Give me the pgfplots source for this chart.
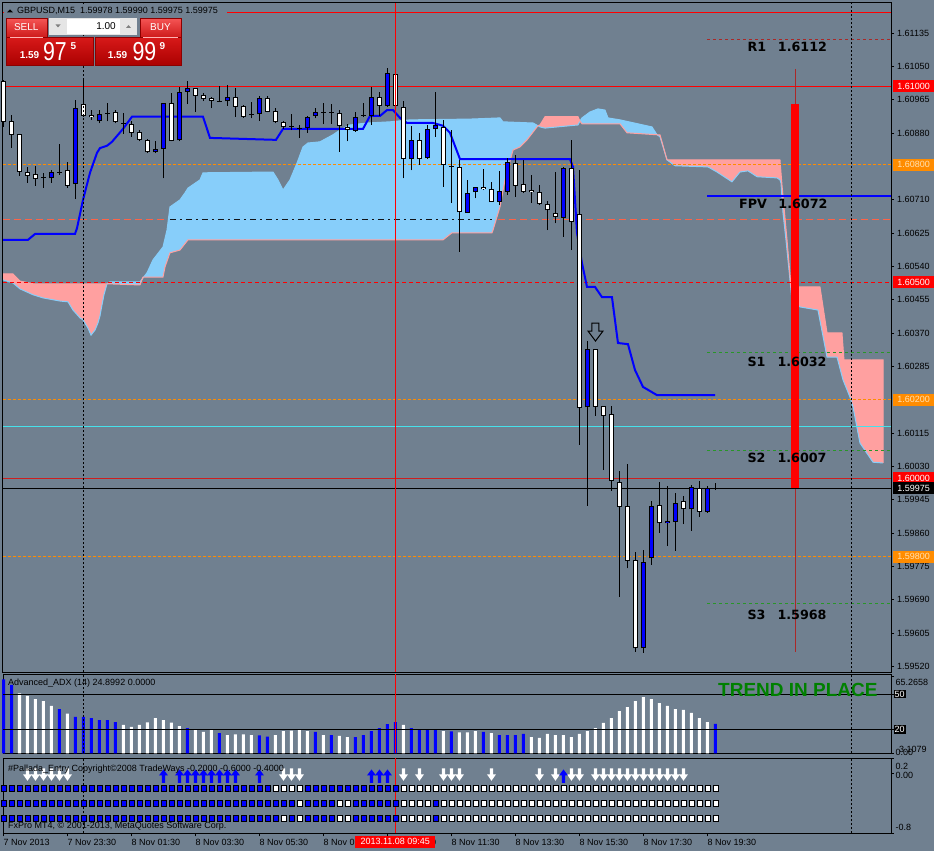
\documentclass[border=0pt]{standalone}
\usepackage{pgfplots}
\pgfplotsset{compat=1.18}
\usepackage{pgfplotstable}
\usepackage{fontspec}
\setmainfont{Liberation Sans}
\newfontfamily\dvb{DejaVu Sans}
\definecolor{slate}{RGB}{112,128,144}
\definecolor{cblue}{RGB}{135,206,250}
\definecolor{cpink}{RGB}{255,160,160}
\definecolor{mblue}{RGB}{0,0,255}
\definecolor{morange}{RGB}{255,140,0}
\definecolor{mtomato}{RGB}{255,99,71}
\definecolor{mgreen}{RGB}{40,150,40}
\definecolor{mmaroon}{RGB}{170,40,40}
\definecolor{mcyan}{RGB}{70,225,235}
\definecolor{mred}{RGB}{255,0,0}
\definecolor{dred}{RGB}{205,30,30}
\definecolor{tgreen}{RGB}{0,128,0}
\definecolor{ocream}{RGB}{255,225,180}

\pgfdeclareplotmark{dnarr}{%
\pgfpathmoveto{\pgfqpoint{-1.6pt}{6.5pt}}\pgfpathlineto{\pgfqpoint{1.6pt}{6.5pt}}%
\pgfpathlineto{\pgfqpoint{1.6pt}{0.5pt}}\pgfpathlineto{\pgfqpoint{4.5pt}{0.5pt}}%
\pgfpathlineto{\pgfqpoint{0pt}{-6pt}}\pgfpathlineto{\pgfqpoint{-4.5pt}{0.5pt}}%
\pgfpathlineto{\pgfqpoint{-1.6pt}{0.5pt}}\pgfpathclose\pgfusepathqfill}
\pgfdeclareplotmark{uparr}{%
\pgfpathmoveto{\pgfqpoint{-1.6pt}{-7pt}}\pgfpathlineto{\pgfqpoint{1.6pt}{-7pt}}%
\pgfpathlineto{\pgfqpoint{1.6pt}{0.5pt}}\pgfpathlineto{\pgfqpoint{4.5pt}{0.5pt}}%
\pgfpathlineto{\pgfqpoint{0pt}{6.5pt}}\pgfpathlineto{\pgfqpoint{-4.5pt}{0.5pt}}%
\pgfpathlineto{\pgfqpoint{-1.6pt}{0.5pt}}\pgfpathclose\pgfusepathqfill}
\pgfdeclareplotmark{hdn}{%
\pgfpathmoveto{\pgfqpoint{-3.5pt}{9pt}}\pgfpathlineto{\pgfqpoint{3.5pt}{9pt}}%
\pgfpathlineto{\pgfqpoint{3.5pt}{1pt}}\pgfpathlineto{\pgfqpoint{7.5pt}{1pt}}%
\pgfpathlineto{\pgfqpoint{0pt}{-9pt}}\pgfpathlineto{\pgfqpoint{-7.5pt}{1pt}}%
\pgfpathlineto{\pgfqpoint{-3.5pt}{1pt}}\pgfpathclose\pgfusepathqfillstroke}

\pgfplotsset{
  mtpanel/.style={scale only axis, width=888pt, xmin=-0.0625, xmax=110.94,
    axis background/.style={fill=slate}, axis line style={black, line width=1pt},
    clip=false, tick style={black, line width=0.8pt}, tick align=outside, major tick length=3pt},
  wick/.style={draw=none, mark=none, forget plot, error bars/y dir=plus, error bars/y explicit,
    error bars/error mark=none, error bars/error bar style={draw=black, solid, line width=1pt}},
  body/.style 2 args={draw=none, mark=none, forget plot, error bars/y dir=plus, error bars/y explicit,
    error bars/error mark=none, error bars/error bar style={draw=#1, solid, line width=#2}},
}
\newcommand{\sm}{\fontsize{9}{10}\selectfont}

% white (bearish) candles: body top, body bottom, high, low
\pgfplotstableread{
i t b hi lo
0 1.61013 1.60909 1.61016 1.60896
1 1.60911 1.60876 1.60927 1.60843
2 1.60878 1.60781 1.60878 1.60771
3 1.60781 1.60771 1.60794 1.60753
4 1.60775 1.60763 1.60797 1.60746
8 1.60786 1.60746 1.60807 1.60741
10 1.60954 1.60925 1.61016 1.60922
11 1.60927 1.60921 1.60939 1.60914
14 1.60935 1.60908 1.60938 1.60905
16 1.60903 1.60880 1.60911 1.60871
17 1.60883 1.60863 1.60888 1.60859
18 1.60863 1.60831 1.60865 1.60829
21 1.60956 1.60860 1.60982 1.60859
24 1.60996 1.60976 1.60996 1.60934
25 1.60978 1.60967 1.60982 1.60962
26 1.60969 1.60963 1.60972 1.60944
29 1.60973 1.60948 1.60995 1.60922
30 1.60950 1.60922 1.60952 1.60920
33 1.60969 1.60935 1.60975 1.60933
34 1.60937 1.60908 1.60944 1.60905
35 1.60908 1.60895 1.60911 1.60891
42 1.60931 1.60899 1.60939 1.60833
43 1.60897 1.60888 1.60903 1.60859
47 1.60972 1.60950 1.60986 1.60924
49 1.61030 1.60950 1.61033 1.60948
50 1.60948 1.60814 1.60961 1.60765
52 1.60863 1.60814 1.60880 1.60799
55 1.60897 1.60799 1.60914 1.60744
57 1.60793 1.60678 1.60812 1.60578
60 1.60742 1.60737 1.60788 1.60735
61 1.60737 1.60704 1.60755 1.60704
64 1.60803 1.60746 1.60825 1.60718
65 1.60751 1.60731 1.60812 1.60727
66 1.60735 1.60729 1.60774 1.60703
67 1.60729 1.60699 1.60748 1.60697
68 1.60699 1.60683 1.60707 1.60633
69 1.60676 1.60666 1.60782 1.60650
71 1.60791 1.60654 1.60863 1.60582
72 1.60673 1.60179 1.60786 1.60085
74 1.60329 1.60183 1.60329 1.60160
75 1.60185 1.60160 1.60185 1.60021
76 1.60163 1.59994 1.60184 1.59968
77 1.59991 1.59927 1.60018 1.59698
78 1.59929 1.59790 1.60036 1.59770
79 1.59791 1.59566 1.59811 1.59558
82 1.59933 1.59885 1.59990 1.59861
85 1.59942 1.59921 1.59955 1.59883
87 1.59974 1.59915 1.59993 1.59902
}\Wc
% blue (bullish) candles
\pgfplotstableread{
i t b hi lo
6 1.60780 1.60765 1.60786 1.60754
9 1.60944 1.60750 1.60965 1.60712
12 1.60928 1.60910 1.60939 1.60905
19 1.60840 1.60831 1.60860 1.60829
20 1.60956 1.60839 1.60956 1.60765
22 1.60986 1.60862 1.60999 1.60860
23 1.60996 1.60986 1.61014 1.60954
28 1.60972 1.60961 1.61003 1.60950
32 1.60969 1.60928 1.60975 1.60912
38 1.60921 1.60894 1.60924 1.60881
39 1.60934 1.60924 1.60945 1.60918
44 1.60921 1.60886 1.60933 1.60884
46 1.60972 1.60924 1.60997 1.60901
48 1.61033 1.60950 1.61046 1.60946
51 1.60863 1.60814 1.60899 1.60785
53 1.60890 1.60816 1.60901 1.60814
54 1.60900 1.60890 1.60985 1.60871
58 1.60727 1.60676 1.60761 1.60676
59 1.60742 1.60729 1.60742 1.60714
62 1.60732 1.60704 1.60784 1.60697
63 1.60806 1.60731 1.60816 1.60723
70 1.60791 1.60665 1.60793 1.60616
73 1.60329 1.60181 1.60350 1.59930
80 1.59786 1.59566 1.59817 1.59555
81 1.59929 1.59796 1.59942 1.59779
83 1.59891 1.59885 1.59980 1.59827
84 1.59936 1.59889 1.59962 1.59815
86 1.59977 1.59921 1.59983 1.59866
88 1.59974 1.59915 1.59980 1.59912
}\Bc
% doji candles
\pgfplotstableread{
i c hi lo
5 1.60766 1.60779 1.60741
7 1.60779 1.60853 1.60774
13 1.60931 1.60958 1.60910
15 1.60905 1.60931 1.60878
27 1.60962 1.61001 1.60959
31 1.60928 1.60959 1.60918
36 1.60896 1.60929 1.60888
37 1.60893 1.60901 1.60869
40 1.60933 1.60956 1.60903
41 1.60933 1.60955 1.60904
45 1.60925 1.60958 1.60921
56 1.60795 1.60888 1.60702
89 1.59973 1.59987 1.59970
}\Dj

\begin{document}
\begin{tikzpicture}
\fill[slate] (0,0) rectangle (934pt,-851pt);

% ================= MAIN PRICE PANEL =================
\begin{axis}[mtpanel, at={(3pt,-672pt)}, anchor=south west, height=669pt,
  ymin=1.59506, ymax=1.61212, xtick=\empty,
  ytick={1.59520,1.59605,1.59690,1.59775,1.59860,1.59945,1.60030,1.60115,1.60285,1.60370,1.60455,1.60540,1.60625,1.60710,1.60880,1.60965,1.61050,1.61135},
  ytick pos=right, yticklabel pos=right, scaled y ticks=false,
  yticklabel style={font=\sm, anchor=west, inner sep=0pt, xshift=3pt,
    /pgf/number format/fixed, /pgf/number format/fixed zerofill,
    /pgf/number format/precision=5, /pgf/number format/assume math mode=true}]

% background level under the cloud
\addplot[mtomato, line width=1pt, dash pattern=on 7pt off 4pt, forget plot] coordinates {(-0.0625,1.60659) (110.94,1.60659)};

% Ichimoku cloud
\addplot[fill=cpink, draw=none, forget plot] coordinates {(-0.06,1.60521) (1.19,1.60521) (2.06,1.60503) (3.69,1.60496) (12.94,1.60496) (12.56,1.60468) (12.31,1.60442) (12.06,1.60414) (11.81,1.60396) (11.44,1.60378) (10.94,1.60365) (10.56,1.60383) (9.94,1.60404) (9.56,1.60409) (8.69,1.60429) (8.06,1.60450) (7.06,1.60452) (4.94,1.60460) (3.69,1.60468) (2.06,1.60483) (1.19,1.60498) (-0.06,1.60506)};
\addplot[fill=cblue, draw=none, forget plot] coordinates {(12.94,1.60496) (13.31,1.60501) (17.06,1.60501) (17.94,1.60524) (18.69,1.60557) (19.94,1.60590) (20.44,1.60633) (20.81,1.60692) (22.06,1.60710) (22.69,1.60728) (23.06,1.60740) (24.56,1.60761) (24.94,1.60779) (33.69,1.60781) (34.31,1.60761) (34.94,1.60735) (35.81,1.60761) (36.69,1.60804) (37.44,1.60845) (38.06,1.60855) (39.56,1.60858) (41.19,1.60876) (42.06,1.60888) (43.31,1.60901) (45.44,1.60906) (48.31,1.60909) (50.81,1.60914) (58.31,1.60916) (62.06,1.60919) (62.44,1.60909) (66.19,1.60906) (66.81,1.60899) (65.44,1.60863) (64.56,1.60845) (63.69,1.60837) (62.69,1.60761) (62.06,1.60692) (61.19,1.60633) (61.06,1.60626) (56.06,1.60626) (54.94,1.60608) (23.06,1.60608) (22.06,1.60582) (20.81,1.60575) (20.19,1.60539) (19.94,1.60513) (17.44,1.60513) (17.06,1.60493) (12.94,1.60496)};
\addplot[fill=cpink, draw=none, forget plot] coordinates {(66.81,1.60899) (67.06,1.60901) (67.69,1.60922) (71.81,1.60922) (72.06,1.60911) (71.81,1.60901) (67.69,1.60893) (67.06,1.60896)};
\addplot[fill=cblue, draw=none, forget plot] coordinates {(72.06,1.60911) (72.31,1.60919) (73.31,1.60934) (74.31,1.60942) (75.19,1.60939) (75.56,1.60919) (77.06,1.60914) (81.06,1.60896) (81.69,1.60876) (77.94,1.60881) (77.06,1.60904) (72.31,1.60904)};
\addplot[fill=cpink, draw=none, forget plot] coordinates {(81.69,1.60876) (82.06,1.60876) (82.94,1.60812) (97.06,1.60812) (97.31,1.60748) (97.94,1.60608) (98.44,1.60488) (102.06,1.60488) (102.94,1.60371) (104.81,1.60371) (105.06,1.60302) (109.94,1.60302) (109.94,1.60039) (108.69,1.60041) (107.06,1.60090) (106.19,1.60182) (105.81,1.60207) (104.94,1.60251) (104.19,1.60309) (102.94,1.60309) (101.81,1.60429) (99.56,1.60437) (98.56,1.60455) (98.19,1.60531) (97.81,1.60608) (97.44,1.60677) (97.19,1.60753) (97.06,1.60761) (96.69,1.60766) (94.19,1.60769) (93.06,1.60784) (92.06,1.60781) (91.06,1.60756) (89.19,1.60781) (88.06,1.60794) (83.94,1.60797) (82.94,1.60812) (82.06,1.60871)};
% span A
\addplot[cblue, line width=1pt, forget plot] coordinates {(-0.06,1.60506) (1.19,1.60498) (2.06,1.60483) (3.69,1.60468) (4.94,1.60460) (7.06,1.60452) (8.06,1.60450) (8.69,1.60429) (9.56,1.60409) (9.94,1.60404) (10.56,1.60383) (10.94,1.60365) (11.44,1.60378) (11.81,1.60396) (12.06,1.60414) (12.31,1.60442) (12.56,1.60468) (12.94,1.60496) (13.31,1.60501) (17.06,1.60501) (17.94,1.60524) (18.69,1.60557) (19.94,1.60590) (20.44,1.60633) (20.81,1.60692) (22.06,1.60710) (22.69,1.60728) (23.06,1.60740) (24.56,1.60761) (24.94,1.60779) (33.69,1.60781) (34.31,1.60761) (34.94,1.60735) (35.81,1.60761) (36.69,1.60804) (37.44,1.60845) (38.06,1.60855) (39.56,1.60858) (41.19,1.60876) (42.06,1.60888) (43.31,1.60901) (45.44,1.60906) (48.31,1.60909) (50.81,1.60914) (58.31,1.60916) (62.06,1.60919) (62.44,1.60909) (66.19,1.60906) (66.81,1.60899) (67.06,1.60896) (67.69,1.60893) (71.81,1.60901) (72.06,1.60911) (72.31,1.60919) (73.31,1.60934) (74.31,1.60942) (75.19,1.60939) (75.56,1.60919) (77.06,1.60914) (81.06,1.60896) (81.69,1.60876) (82.06,1.60871) (82.94,1.60812) (83.94,1.60797) (88.06,1.60794) (89.19,1.60781) (91.06,1.60756) (92.06,1.60781) (93.06,1.60784) (94.19,1.60769) (96.69,1.60766) (97.06,1.60761) (97.19,1.60753) (97.44,1.60677) (97.81,1.60608) (98.19,1.60531) (98.56,1.60455) (99.56,1.60437) (101.81,1.60429) (102.94,1.60309) (104.19,1.60309) (104.94,1.60251) (105.81,1.60207) (106.19,1.60182) (107.06,1.60090) (108.69,1.60041) (109.94,1.60039)};
% span B
\addplot[cpink, line width=1pt, forget plot] coordinates {(-0.06,1.60521) (1.19,1.60521) (2.06,1.60503) (3.69,1.60496) (12.94,1.60496) (17.06,1.60493) (17.44,1.60513) (19.94,1.60513) (20.19,1.60539) (20.81,1.60575) (22.06,1.60582) (23.06,1.60608) (54.94,1.60608) (56.06,1.60626) (61.06,1.60626) (61.19,1.60633) (62.06,1.60692) (62.69,1.60761) (63.69,1.60837) (64.56,1.60845) (65.44,1.60863) (66.81,1.60899) (67.06,1.60901) (67.69,1.60922) (71.81,1.60922) (72.06,1.60911) (72.31,1.60904) (77.06,1.60904) (77.94,1.60881) (81.69,1.60876) (82.06,1.60876) (82.94,1.60812) (97.06,1.60812) (97.31,1.60748) (97.94,1.60608) (98.44,1.60488) (102.06,1.60488) (102.94,1.60371) (104.81,1.60371) (105.06,1.60302) (109.94,1.60302) (109.94,1.60039)};

% dash-dot segment inside the cloud
\addplot[black!85!slate, line width=1pt, dash pattern=on 6pt off 4pt on 2pt off 4pt, forget plot] coordinates {(20.8,1.60659) (61.06,1.60659)};

% horizontal levels
\addplot[mred, line width=1pt, forget plot] coordinates {(-0.0625,1.61187) (110.94,1.61187)};
\addplot[mred, line width=1pt, forget plot] coordinates {(-0.0625,1.61000) (110.94,1.61000)};
\addplot[morange, line width=1pt, dash pattern=on 3pt off 2pt, forget plot] coordinates {(-0.0625,1.60800) (110.94,1.60800)};
\addplot[mred, line width=1pt, dash pattern=on 4pt off 3pt, forget plot] coordinates {(-0.0625,1.60500) (110.94,1.60500)};
\addplot[morange, line width=1pt, dash pattern=on 3pt off 2pt, forget plot] coordinates {(-0.0625,1.60200) (110.94,1.60200)};
\addplot[mcyan, line width=1pt, forget plot] coordinates {(-0.0625,1.60131) (110.94,1.60131)};
\addplot[dred, line width=1pt, forget plot] coordinates {(-0.0625,1.60000) (110.94,1.60000)};
\addplot[morange, line width=1pt, dash pattern=on 3pt off 2pt, forget plot] coordinates {(-0.0625,1.59800) (110.94,1.59800)};

% pivot levels
\addplot[mmaroon, line width=1pt, dash pattern=on 3pt off 3pt, forget plot] coordinates {(87.94,1.6112) (110.94,1.6112)};
\addplot[mblue, line width=2pt, forget plot] coordinates {(87.94,1.6072) (110.94,1.6072)};
\addplot[mgreen, line width=1pt, dash pattern=on 3pt off 3pt, forget plot] coordinates {(87.94,1.6032) (110.94,1.6032)};
\addplot[mgreen, line width=1pt, dash pattern=on 3pt off 3pt, forget plot] coordinates {(87.94,1.6007) (110.94,1.6007)};
\addplot[mgreen, line width=1pt, dash pattern=on 3pt off 3pt, forget plot] coordinates {(87.94,1.5968) (110.94,1.5968)};

% projected range bar
\addplot[mmaroon, line width=1pt, forget plot] coordinates {(98.94,1.61044) (98.94,1.59557)};
\addplot[fill=mred, draw=none, forget plot] coordinates {(98.44,1.60955) (99.44,1.60955) (99.44,1.59975) (98.44,1.59975)};

% bid line
\addplot[black, line width=1pt, forget plot] coordinates {(-0.0625,1.59975) (110.94,1.59975)};

% Kijun line
\addplot[mblue, line width=2pt, forget plot] coordinates {(-0.06,1.60608) (3.06,1.60608) (3.94,1.60623) (8.94,1.60623) (9.19,1.60638) (9.94,1.60710) (10.81,1.60779) (11.69,1.60830) (12.06,1.60842) (12.94,1.60848) (13.56,1.60858) (14.94,1.60891) (16.06,1.60922) (24.94,1.60922) (25.81,1.60868) (34.06,1.60863) (34.94,1.60891) (44.94,1.60891) (45.81,1.60924) (47.06,1.60924) (47.94,1.60939) (48.69,1.60939) (49.56,1.60919) (50.44,1.60906) (53.69,1.60906) (54.94,1.60899) (55.81,1.60881) (57.06,1.60814) (70.81,1.60814) (71.19,1.60794) (71.69,1.60626) (72.31,1.60549) (72.94,1.60488) (73.94,1.60488) (74.81,1.60462) (76.06,1.60462) (76.81,1.60345) (78.06,1.60342) (78.94,1.60276) (79.94,1.60233) (81.69,1.60212) (88.94,1.60212)};

% candles: wicks
\addplot[wick] table[x=i, y=lo, y error plus expr=\thisrow{hi}-\thisrow{lo}] \Wc;
\addplot[wick] table[x=i, y=lo, y error plus expr=\thisrow{hi}-\thisrow{lo}] \Bc;
\addplot[wick] table[x=i, y=lo, y error plus expr=\thisrow{hi}-\thisrow{lo}] \Dj;
% bodies
\addplot[body={black}{4.8pt}] table[x=i, y=b, y error plus expr=\thisrow{t}-\thisrow{b}] \Wc;
\addplot[body={white}{2.8pt}] table[x=i, y expr=\thisrow{b}+0.0000255, y error plus expr=\thisrow{t}-\thisrow{b}-0.000051] \Wc;
\addplot[body={black}{4.8pt}] table[x=i, y=b, y error plus expr=\thisrow{t}-\thisrow{b}] \Bc;
\addplot[body={mblue}{2.8pt}] table[x=i, y expr=\thisrow{b}+0.0000255, y error plus expr=\thisrow{t}-\thisrow{b}-0.000051] \Bc;
\addplot[only marks, mark=-, mark size=2.4pt, mark options={black, line width=1pt}, forget plot] table[x=i, y=c] \Dj;

% vertical lines
\addplot[mred, line width=1pt, forget plot] coordinates {(49,1.59506) (49,1.61212)};
\addplot[black, line width=1pt, dash pattern=on 2pt off 2pt, forget plot] coordinates {(10,1.59506) (10,1.61212)};
\addplot[black, line width=1pt, dash pattern=on 2pt off 2pt, forget plot] coordinates {(106,1.59506) (106,1.61212)};

% signal arrow
\addplot[only marks, mark=hdn, mark options={draw=black, fill=slate, line width=1pt}, forget plot] coordinates {(74,1.60373)};

% pivot texts
\begin{scope}[every node/.style={font=\dvb\bfseries\fontsize{12.7}{13}\selectfont, text=black, inner sep=0pt, anchor=west}]
\node at (axis cs:93.0,1.61100) {R1};   \node at (axis cs:96.78,1.61100) {1.6112};
\node at (axis cs:91.94,1.60700) {FPV}; \node at (axis cs:96.85,1.60700) {1.6072};
\node at (axis cs:92.98,1.60297) {S1};  \node at (axis cs:96.73,1.60297) {1.6032};
\node at (axis cs:92.98,1.60051) {S2};  \node at (axis cs:96.73,1.60051) {1.6007};
\node at (axis cs:92.98,1.59651) {S3};  \node at (axis cs:96.73,1.59651) {1.5968};
\end{scope}

% price boxes
\begin{scope}[every node/.style={font=\sm, inner sep=0pt, minimum width=41pt, minimum height=12pt, anchor=west}]
\node[fill=mred, text=white] at (axis cs:111.19,1.61000) {1.61000};
\node[fill=morange, text=ocream] at (axis cs:111.19,1.60800) {1.60800};
\node[fill=mred, text=white] at (axis cs:111.19,1.60500) {1.60500};
\node[fill=morange, text=ocream] at (axis cs:111.19,1.60200) {1.60200};
\node[fill=mred, text=white] at (axis cs:111.19,1.60000) {1.60000};
\node[fill=black, text=white] at (axis cs:111.19,1.59975) {1.59975};
\node[fill=morange, text=ocream] at (axis cs:111.19,1.59800) {1.59800};
\end{scope}
\end{axis}

% ================= ADX PANEL =================
\begin{axis}[mtpanel, at={(3pt,-753.3pt)}, anchor=south west, height=79.3pt,
  ymin=0, ymax=67.2, xtick=\empty, ytick={0,20,50,65.2658}, yticklabels={}, ytick pos=right]
\addplot[ybar, bar width=3pt, bar shift=0pt, fill=mblue, draw=none, forget plot] coordinates {(0,62.7)(1,57.9)(7,37.5)(9,30.8)(10,30.8)(11,29.9)(12,28.2)(13,28.2)(14,26.5)(23,21.4)(27,17.2)(32,15.3)(33,14.1)(39,18.1)(41,15.5)(44,13.8)(45,15.5)(46,18.9)(47,21.4)(48,24.8)(49,26.5)(51,21.4)(52,19.7)(53,19.7)(54,19.7)(56,18.6)(60,18.1)(62,15.5)(63,15.5)(64,15.5)(65,16.4)(89,24.9)};
\addplot[ybar, bar width=3pt, bar shift=0pt, fill=white, draw=none, forget plot] coordinates {(2,50.8)(3,48.6)(4,46.0)(5,44.3)(6,40.1)(8,33.6)(15,24.0)(16,22.3)(17,24.0)(18,26.3)(19,29.9)(20,28.2)(21,25.9)(22,23.1)(24,19.7)(25,18.1)(26,19.7)(28,15.5)(29,16.1)(30,16.1)(31,15.5)(34,15.5)(35,18.9)(36,19.2)(37,19.7)(38,18.9)(40,15.5)(42,14.7)(43,13.8)(50,24.0)(55,18.9)(57,17.8)(58,17.8)(59,18.9)(61,17.2)(66,13.8)(67,13.0)(68,16.4)(69,15.5)(70,15.5)(71,13.8)(72,16.4)(73,18.9)(74,21.4)(75,25.7)(76,29.9)(77,35.8)(78,39.2)(79,44.3)(80,47.7)(81,46.0)(82,42.6)(83,40.1)(84,37.5)(85,36.7)(86,34.2)(87,29.9)(88,26.5)};
\addplot[black, line width=1pt, forget plot] coordinates {(-0.0625,50) (110.94,50)};
\addplot[black, line width=1pt, forget plot] coordinates {(-0.0625,20) (110.94,20)};
\addplot[mred, line width=1pt, forget plot] coordinates {(49,0) (49,67.2)};
\addplot[black, line width=1pt, dash pattern=on 2pt off 2pt, forget plot] coordinates {(10,0) (10,67.2)};
\addplot[black, line width=1pt, dash pattern=on 2pt off 2pt, forget plot] coordinates {(106,0) (106,67.2)};
\end{axis}

% ================= PALLADA PANEL =================
\begin{axis}[mtpanel, at={(3pt,-833.3pt)}, anchor=south west, height=75pt,
  ymin=-0.8, ymax=0.2, ytick={-0.8,0,0.2}, yticklabels={}, ytick pos=right,
  xtick={0,8,16,24,32,40,48,56,64,72,80,88}, xtick pos=left,
  xticklabels={7 Nov 2013,7 Nov 23:30,8 Nov 01:30,8 Nov 03:30,8 Nov 05:30,8 Nov 07:30,8 Nov 09:30,8 Nov 11:30,8 Nov 13:30,8 Nov 15:30,8 Nov 17:30,8 Nov 19:30},
  xticklabel style={font=\sm, anchor=north west, inner sep=0pt, yshift=-3pt}]
\addplot[red, line width=1pt, forget plot] coordinates {(49,-0.8) (49,0.2)};
\addplot[black, line width=1pt, dash pattern=on 2pt off 2pt, forget plot] coordinates {(10,-0.8) (10,0.2)};
\addplot[black, line width=1pt, dash pattern=on 2pt off 2pt, forget plot] coordinates {(106,-0.8) (106,0.2)};
% row 1
\addplot[only marks, mark=square*, mark size=2.65pt, mark options={draw=none, fill=mblue}, forget plot] coordinates {(0,-0.2)(1,-0.2)(2,-0.2)(3,-0.2)(4,-0.2)(5,-0.2)(6,-0.2)(7,-0.2)(8,-0.2)(9,-0.2)(10,-0.2)(11,-0.2)(12,-0.2)(13,-0.2)(14,-0.2)(15,-0.2)(16,-0.2)(17,-0.2)(18,-0.2)(19,-0.2)(20,-0.2)(21,-0.2)(22,-0.2)(23,-0.2)(24,-0.2)(25,-0.2)(26,-0.2)(27,-0.2)(28,-0.2)(29,-0.2)(30,-0.2)(31,-0.2)(32,-0.2)(33,-0.2)(38,-0.2)(39,-0.2)(40,-0.2)(41,-0.2)(42,-0.2)(43,-0.2)(44,-0.2)(45,-0.2)(46,-0.2)(47,-0.2)(48,-0.2)(49,-0.2)};
\addplot[only marks, mark=square*, mark size=2.65pt, mark options={draw=none, fill=white}, forget plot] coordinates {(34,-0.2)(35,-0.2)(36,-0.2)(37,-0.2)(50,-0.2)(51,-0.2)(52,-0.2)(53,-0.2)(54,-0.2)(55,-0.2)(56,-0.2)(57,-0.2)(58,-0.2)(59,-0.2)(60,-0.2)(61,-0.2)(62,-0.2)(63,-0.2)(64,-0.2)(65,-0.2)(66,-0.2)(67,-0.2)(68,-0.2)(69,-0.2)(70,-0.2)(71,-0.2)(72,-0.2)(73,-0.2)(74,-0.2)(75,-0.2)(76,-0.2)(77,-0.2)(78,-0.2)(79,-0.2)(80,-0.2)(81,-0.2)(82,-0.2)(83,-0.2)(84,-0.2)(85,-0.2)(86,-0.2)(87,-0.2)(88,-0.2)(89,-0.2)};
% row 2
\addplot[only marks, mark=square*, mark size=2.65pt, mark options={draw=none, fill=mblue}, forget plot] coordinates {(0,-0.4)(1,-0.4)(2,-0.4)(3,-0.4)(4,-0.4)(5,-0.4)(6,-0.4)(7,-0.4)(8,-0.4)(9,-0.4)(10,-0.4)(11,-0.4)(12,-0.4)(13,-0.4)(14,-0.4)(15,-0.4)(16,-0.4)(17,-0.4)(18,-0.4)(19,-0.4)(20,-0.4)(21,-0.4)(22,-0.4)(23,-0.4)(24,-0.4)(25,-0.4)(26,-0.4)(27,-0.4)(28,-0.4)(29,-0.4)(30,-0.4)(31,-0.4)(32,-0.4)(33,-0.4)(34,-0.4)(35,-0.4)(36,-0.4)(38,-0.4)(39,-0.4)(40,-0.4)(41,-0.4)(44,-0.4)(45,-0.4)(46,-0.4)(47,-0.4)(48,-0.4)(49,-0.4)(54,-0.4)};
\addplot[only marks, mark=square*, mark size=2.65pt, mark options={draw=none, fill=white}, forget plot] coordinates {(37,-0.4)(42,-0.4)(43,-0.4)(50,-0.4)(51,-0.4)(52,-0.4)(53,-0.4)(55,-0.4)(56,-0.4)(57,-0.4)(58,-0.4)(59,-0.4)(60,-0.4)(61,-0.4)(62,-0.4)(63,-0.4)(64,-0.4)(65,-0.4)(66,-0.4)(67,-0.4)(68,-0.4)(69,-0.4)(70,-0.4)(71,-0.4)(72,-0.4)(73,-0.4)(74,-0.4)(75,-0.4)(76,-0.4)(77,-0.4)(78,-0.4)(79,-0.4)(80,-0.4)(81,-0.4)(82,-0.4)(83,-0.4)(84,-0.4)(85,-0.4)(86,-0.4)(87,-0.4)(88,-0.4)(89,-0.4)};
% row 3
\addplot[only marks, mark=square*, mark size=2.65pt, mark options={draw=none, fill=mblue}, forget plot] coordinates {(0,-0.6)(1,-0.6)(2,-0.6)(3,-0.6)(4,-0.6)(5,-0.6)(6,-0.6)(7,-0.6)(8,-0.6)(9,-0.6)(10,-0.6)(11,-0.6)(12,-0.6)(13,-0.6)(14,-0.6)(15,-0.6)(16,-0.6)(17,-0.6)(18,-0.6)(19,-0.6)(20,-0.6)(21,-0.6)(22,-0.6)(23,-0.6)(24,-0.6)(25,-0.6)(26,-0.6)(27,-0.6)(28,-0.6)(29,-0.6)(30,-0.6)(31,-0.6)(32,-0.6)(33,-0.6)(34,-0.6)(36,-0.6)(38,-0.6)(39,-0.6)(40,-0.6)(41,-0.6)(44,-0.6)(45,-0.6)(46,-0.6)(47,-0.6)(48,-0.6)(49,-0.6)(54,-0.6)};
\addplot[only marks, mark=square*, mark size=2.65pt, mark options={draw=none, fill=white}, forget plot] coordinates {(35,-0.6)(37,-0.6)(42,-0.6)(43,-0.6)(50,-0.6)(51,-0.6)(52,-0.6)(53,-0.6)(55,-0.6)(56,-0.6)(57,-0.6)(58,-0.6)(59,-0.6)(60,-0.6)(61,-0.6)(62,-0.6)(63,-0.6)(64,-0.6)(65,-0.6)(66,-0.6)(67,-0.6)(68,-0.6)(69,-0.6)(70,-0.6)(71,-0.6)(72,-0.6)(73,-0.6)(74,-0.6)(75,-0.6)(76,-0.6)(77,-0.6)(78,-0.6)(79,-0.6)(80,-0.6)(81,-0.6)(82,-0.6)(83,-0.6)(84,-0.6)(85,-0.6)(86,-0.6)(87,-0.6)(88,-0.6)(89,-0.6)};
% arrows
\addplot[only marks, mark=dnarr, white, forget plot] coordinates {(3,-0.02)(4,-0.02)(5,-0.02)(6,-0.02)(7,-0.02)(8,-0.02)(35,-0.02)(36,-0.02)(37,-0.02)(50,-0.02)(52,-0.02)(55,-0.02)(56,-0.02)(57,-0.02)(61,-0.02)(67,-0.02)(69,-0.02)(71,-0.02)(72,-0.02)(74,-0.02)(75,-0.02)(76,-0.02)(77,-0.02)(78,-0.02)(79,-0.02)(80,-0.02)(81,-0.02)(82,-0.02)(83,-0.02)(84,-0.02)(85,-0.02)};
\addplot[only marks, mark=uparr, mblue, forget plot] coordinates {(20,-0.035)(22,-0.035)(23,-0.035)(24,-0.035)(25,-0.035)(26,-0.035)(27,-0.035)(28,-0.035)(29,-0.035)(32,-0.035)(46,-0.035)(47,-0.035)(48,-0.035)(70,-0.035)};
\end{axis}

% ================= DECORATIONS =================
\begin{scope}[x=1pt, y=-1pt]
% header
\fill[slate] (4,6) rectangle (227,16.5);
\fill[black] (7,12.5) -- (13,12.5) -- (10,9.3) -- cycle;
\node[anchor=west, inner sep=0pt, font=\sm] at (17,11) {GBPUSD,M15\ \ 1.59978 1.59990 1.59975 1.59975};
% one-click trading panel
\shade[top color={rgb,255:red,245;green,85;blue,85}, bottom color={rgb,255:red,205;green,25;blue,25}, draw={rgb,255:red,140;green,0;blue,0}] (6,18.3) rectangle (46.7,37.5);
\shade[top color={rgb,255:red,245;green,85;blue,85}, bottom color={rgb,255:red,205;green,25;blue,25}, draw={rgb,255:red,140;green,0;blue,0}] (140,18.3) rectangle (181,37.5);
\shade[top color={rgb,255:red,215;green,25;blue,25}, bottom color={rgb,255:red,170;green,0;blue,0}, draw={rgb,255:red,140;green,0;blue,0}] (6,37.5) rectangle (92.7,65.7);
\shade[top color={rgb,255:red,215;green,25;blue,25}, bottom color={rgb,255:red,170;green,0;blue,0}, draw={rgb,255:red,140;green,0;blue,0}] (95,37.5) rectangle (181,65.7);
\draw[white!70!red, line width=0.6pt] (10,37.3) -- (43,37.3);
\draw[white!70!red, line width=0.6pt] (143,37.3) -- (178,37.3);
\fill[white!80!gray] (49.3,18.3) rectangle (137.3,35);
\fill[white] (66.7,19.3) rectangle (120,34);
\fill[gray] (55.5,24.5) -- (60.5,24.5) -- (58,27.5) -- cycle;
\fill[gray] (126,28) -- (131,28) -- (128.5,25) -- cycle;
\node[font=\fontsize{10}{11}\selectfont, text=white] at (26.3,27.5) {SELL};
\node[font=\fontsize{10}{11}\selectfont, text=white] at (160.5,27.5) {BUY};
\node[anchor=east, font=\fontsize{10}{11}\selectfont, inner sep=0pt] at (116,26.5) {1.00};
\node[font=\bfseries\fontsize{10}{11}\selectfont, text=white, inner sep=0pt] at (29.5,55.5) {1.59};
\node[font=\fontsize{26}{26}\selectfont, text=white, inner sep=0pt] at (55,51.8) {\scalebox{0.82}[1]{97}};
\node[font=\bfseries\fontsize{10}{11}\selectfont, text=white, inner sep=0pt] at (73.3,46.5) {5};
\node[font=\bfseries\fontsize{10}{11}\selectfont, text=white, inner sep=0pt] at (117.5,55.5) {1.59};
\node[font=\fontsize{26}{26}\selectfont, text=white, inner sep=0pt] at (144.5,51.8) {\scalebox{0.82}[1]{99}};
\node[font=\bfseries\fontsize{10}{11}\selectfont, text=white, inner sep=0pt] at (162.5,46.5) {9};
% ADX panel texts
\node[anchor=west, inner sep=0pt, font=\sm] at (8,683) {Advanced\_ADX (14) 24.8992 0.0000};
\node[anchor=west, inner sep=0pt, font=\bfseries\fontsize{19}{20}\selectfont, text=tgreen] at (718,690) {TREND IN PLACE};
\node[anchor=west, inner sep=0pt, font=\sm] at (895.5,682) {65.2658};
\node[anchor=west, fill=black, text=white, inner sep=1.2pt, font=\sm] at (893.3,694) {50};
\node[anchor=west, fill=black, text=white, inner sep=1.2pt, font=\sm] at (893.3,729.5) {20};
\node[anchor=west, inner sep=0pt, font=\sm] at (895.5,752) {0.00};
\node[anchor=west, inner sep=0pt, font=\sm] at (899,749.5) {3.1079};
% Pallada panel texts
\node[anchor=west, inner sep=0pt, font=\sm] at (8,769) {\#Pallada\_Entry Copyright\textcopyright2008 TradeWays -0.2000 -0.6000 -0.4000};
\node[anchor=west, inner sep=0pt, font=\sm] at (8,826) {FxPro MT4, \textcopyright{} 2001-2013, MetaQuotes Software Corp.};
\node[anchor=west, inner sep=0pt, font=\sm] at (895.5,766) {0.2};
\node[anchor=west, inner sep=0pt, font=\sm] at (895.5,775) {0.00};
\node[anchor=west, inner sep=0pt, font=\sm] at (895.5,827) {-0.8};
% time cursor box
\node[fill=mred, text=white, inner sep=0pt, minimum width=80pt, minimum height=12pt, font=\sm] at (395.3,841.8) {2013.11.08 09:45};
\end{scope}
\pgfresetboundingbox
\path[use as bounding box] (0,0) rectangle (934pt,-851pt);
\end{tikzpicture}
\end{document}
